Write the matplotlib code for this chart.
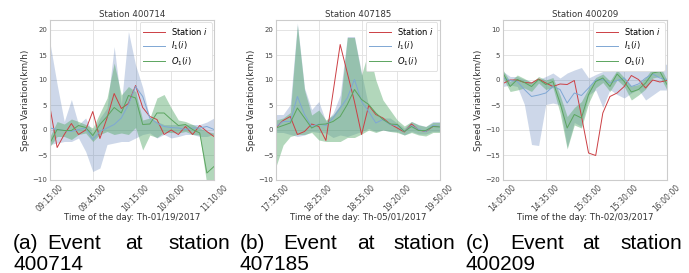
import matplotlib
matplotlib.use("Agg")
import matplotlib.pyplot as plt
import numpy as np

# time labels for the three events (5-minute steps, 24 points each)
ticks_idx = [0, 6, 12, 17, 23]
ticks_a = ["09:15:00", "09:45:00", "10:15:00", "10:40:00", "11:10:00"]
ticks_b = ["17:55:00", "18:25:00", "18:55:00", "19:20:00", "19:50:00"]
ticks_c = ["14:05:00", "14:35:00", "15:05:00", "15:30:00", "16:00:00"]

# panel (a) station 400714
red_a = [4.5, -3.5, -0.9, 1.3, -0.9, 0.0, 3.7, -1.7, 2.4, 7.3, 4.3, 5.3,
         8.9, 4.5, 2.7, 2.1, -0.9, 0.0, -0.9, 0.7, -0.9, 0.9, -0.3, -1.3]
in_a = [0.4, 0.1, -0.1, -0.3, 0.1, 0.4, -1.9, -0.3, 0.4, 1.1, 2.4, 5.1,
        8.7, 6.7, 2.4, 1.4, 0.7, 0.5, 0.4, 0.1, 0.4, 0.4, 0.7, 0.1]
in_hi_a = [17.4, 9.1, 1.7, 6.1, 1.1, 2.4, -0.6, 2.4, 4.4, 16.7, 5.1, 19.7,
           13.0, 8.5, 2.4, 1.7, 1.1, 1.1, 1.1, 1.1, 1.1, 1.1, 1.6, 2.4]
in_lo_a = [-2.9, -2.6, -2.3, -2.3, -1.6, -4.3, -8.3, -7.6, -2.9, -2.6, -2.3, -2.3,
           -1.6, -0.9, -0.6, -1.6, -0.9, -1.6, -1.3, -0.9, -0.9, -1.3, -1.3, -0.9]
out_a = [-2.6, 0.1, -0.1, -0.1, 0.9, 0.5, -1.1, 1.1, 2.7, 4.5, 3.4, 6.9,
         6.4, 1.1, 1.2, 3.4, 3.4, 2.1, 0.9, 1.1, 0.1, -0.6, -8.6, -7.3]
out_hi_a = [-1.3, 1.7, 1.2, 2.2, 1.7, 1.1, 0.4, 3.4, 6.4, 13.4, 7.0, 8.7,
            7.7, 2.0, 2.4, 6.4, 7.1, 4.4, 2.0, 1.7, 1.1, 0.4, -0.3, -0.6]
out_lo_a = [-3.3, -1.3, -1.3, -1.9, -0.9, -0.6, -2.3, -0.9, -0.3, -0.9, -0.6, -0.9,
            0.5, -4.0, -1.0, -1.5, -0.5, -0.5, -0.6, -0.3, -0.9, -1.0, -11.0, -11.0]

# panel (b) station 407185
red_b = [0.5, 1.9, 2.7, -0.9, -0.3, 1.2, 0.7, -2.1, 7.5, 17.1, 11.4, 5.7,
         -0.9, 4.9, 3.1, 2.4, 1.2, 0.4, -0.4, 1.2, 0.0, -0.3, 0.7, 0.7]
in_b = [0.7, 1.7, 1.7, 6.7, 3.1, 0.7, 1.2, 0.9, 2.4, 4.4, 6.4, 10.1,
        5.7, 3.7, 1.4, 2.1, 1.1, 0.9, -0.3, 0.9, 0.1, -0.3, 0.9, 0.7]
in_hi_b = [3.1, 3.1, 5.1, 21.4, 8.4, 4.1, 5.7, 1.7, 3.4, 7.0, 18.7, 18.7,
           11.4, 4.7, 3.1, 2.4, 2.4, 1.4, 0.4, 1.7, 1.1, 0.7, 1.7, 1.7]
in_lo_b = [-0.5, -0.5, -0.9, -1.3, -1.0, -0.3, -0.5, -0.6, -1.5, -1.0, -1.3, -0.8,
           -0.3, 0.3, -0.3, 0.0, -0.3, -0.3, -1.0, -0.3, -0.8, -0.8, -0.3, -0.3]
out_b = [0.4, 0.9, 1.4, 4.4, 2.4, 0.4, 1.1, 1.2, 1.7, 2.7, 5.1, 8.1,
         6.1, 5.1, 3.4, 2.1, 1.2, 1.1, -0.3, 0.7, -0.1, -0.1, 0.7, 0.6]
out_hi_b = [2.0, 2.4, 3.5, 21.0, 8.0, 3.0, 4.0, 2.0, 3.0, 5.0, 18.5, 18.5,
            11.0, 16.0, 10.0, 6.0, 4.0, 2.0, 0.8, 1.7, 1.0, 0.7, 1.5, 1.5]
out_lo_b = [-7.3, -3.0, -1.3, -0.9, -0.9, -0.5, -2.0, -2.3, -2.3, -2.3, -1.5, -1.5,
            -0.8, 0.0, -0.5, 0.0, -0.3, -0.5, -1.0, -0.5, -1.0, -1.2, -0.5, -0.5]

# panel (c) station 400209
red_c = [-0.7, 0.0, 0.0, -0.5, -0.6, 0.2, -0.6, -1.3, -0.8, -0.9, -0.1, -7.2,
         -14.6, -15.1, -6.6, -3.3, -2.6, -1.3, 0.9, 0.1, -1.6, 0.0, -0.4, -0.1]
in_c = [0.4, -0.1, -0.3, -1.9, -3.3, -3.0, -2.6, -1.3, -1.9, -4.6, -2.6, -3.1,
        -1.6, 0.0, 0.1, -0.6, -0.1, 0.4, -1.3, -0.8, 0.4, 1.2, 0.4, 0.1]
in_hi_c = [1.7, 0.7, 0.7, 0.1, -0.3, 0.1, 0.7, 1.4, 0.4, 1.4, 2.0, 2.5,
           0.4, 1.1, 1.7, 1.7, 1.9, 3.1, 3.4, 3.1, 2.4, 2.7, 3.4, 3.1]
in_lo_c = [-1.3, -1.0, -1.3, -4.9, -12.9, -13.1, -4.9, -4.6, -5.0, -13.5, -8.5, -9.3,
           -3.0, -2.0, -5.5, -1.9, -2.9, -3.6, -2.6, -1.9, -4.0, -3.0, -2.0, -2.0]
out_c = [1.4, -1.3, 0.1, -0.5, -1.3, 0.1, -0.9, -0.3, -4.6, -9.6, -6.9, -7.6,
         -2.9, -0.3, 0.4, -1.3, 1.2, -0.3, -2.4, -1.9, -0.6, 1.4, 1.7, -0.9]
out_hi_c = [2.0, -0.3, 1.0, 0.3, -0.5, 0.7, 0.0, 0.5, -3.0, -7.3, -5.5, -4.3,
            -1.6, 0.5, 1.2, -0.2, 2.0, 0.5, -1.2, -0.9, 0.5, 2.4, 2.8, 0.0]
out_lo_c = [0.4, -2.3, -2.0, -1.6, -2.3, -0.6, -1.9, -1.5, -6.6, -13.8, -9.0, -9.6,
            -4.6, -1.6, -0.5, -2.3, 0.0, -1.3, -4.0, -3.0, -1.8, 0.4, 0.7, -2.0]

titles = ["Station 400714", "Station 407185", "Station 400209"]
dates = ["Th-01/19/2017", "Th-05/01/2017", "Th-02/03/2017"]
captions = [("(a)", "400714"), ("(b)", "407185"), ("(c)", "400209")]

RED, BLUE, GREEN = "#cc3f44", "#4c72b0", "#55a868"
W, H = 689, 273


def draw_panel(ax, red, inm, inhi, inlo, outm, outhi, outlo, ticklabels, ylim, yticks):
    x = np.arange(len(red))
    ax.fill_between(x, inlo, inhi, color=BLUE, alpha=0.28, lw=0)
    ax.fill_between(x, outlo, outhi, color=GREEN, alpha=0.45, lw=0)
    ax.plot(x, red, color=RED, lw=0.7, label="Station $i$")
    ax.plot(x, inm, color="#7fa7d4", lw=0.7, label="$I_1(i)$")
    ax.plot(x, outm, color="#5ba55f", lw=0.7, label="$O_1(i)$")
    ax.set_xlim(0, len(red) - 1)
    ax.set_ylim(*ylim)
    ax.set_yticks(yticks)
    ax.set_xticks(ticks_idx)
    ax.set_xticklabels(ticklabels, rotation=45)
    ax.tick_params(length=0, labelcolor="#444444", pad=2)
    ax.tick_params(axis="x", labelsize=5.5)
    ax.tick_params(axis="y", labelsize=5)
    ax.grid(True, color="#e4e4e4", lw=0.7)
    ax.set_axisbelow(True)
    for s in ax.spines.values():
        s.set_color("#cccccc")
        s.set_linewidth(0.8)
    leg = ax.legend(loc="upper right", fontsize=6, handlelength=2.6,
                    borderaxespad=0.3, labelspacing=0.35, framealpha=1)
    leg.get_frame().set_edgecolor("#dddddd")
    leg.get_frame().set_linewidth(0.6)


def main():
    fig = plt.figure(figsize=(W / 100, H / 100), dpi=100)
    lefts = [50, 276, 503]
    panels = [
        (red_a, in_a, in_hi_a, in_lo_a, out_a, out_hi_a, out_lo_a, ticks_a, (-10, 22), range(-10, 21, 5)),
        (red_b, in_b, in_hi_b, in_lo_b, out_b, out_hi_b, out_lo_b, ticks_b, (-10, 22), range(-10, 21, 5)),
        (red_c, in_c, in_hi_c, in_lo_c, out_c, out_hi_c, out_lo_c, ticks_c, (-20, 12), range(-20, 11, 5)),
    ]
    for k, p in enumerate(panels):
        ax = fig.add_axes([lefts[k] / W, (H - 180) / H, 164 / W, 160 / H])
        draw_panel(ax, *p)
        ax.set_title(titles[k], fontsize=6.2, color="#333333", pad=2)
        ax.set_ylabel("Speed Variation(km/h)", fontsize=6.5, color="#333333", labelpad=2)
        ax.set_xlabel("Time of the day: " + dates[k], fontsize=6.2, color="#333333", labelpad=0)
    # justified captions under each panel
    word_x = [[13, 47, 125, 168], [240, 283, 357, 393], [466, 510, 582, 620]]
    for k, (tag, num) in enumerate(captions):
        words = [tag, "Event", "at", "station"]
        for wx, w in zip(word_x[k], words):
            fig.text(wx / W, 24 / H, w, fontsize=15, family="Liberation Sans",
                     ha="left", va="baseline")
        fig.text(word_x[k][0] / W, 3 / H, num, fontsize=15, family="Liberation Sans",
                 ha="left", va="baseline")
    fig.savefig("out.png", dpi=100)


if __name__ == "__main__":
    main()
